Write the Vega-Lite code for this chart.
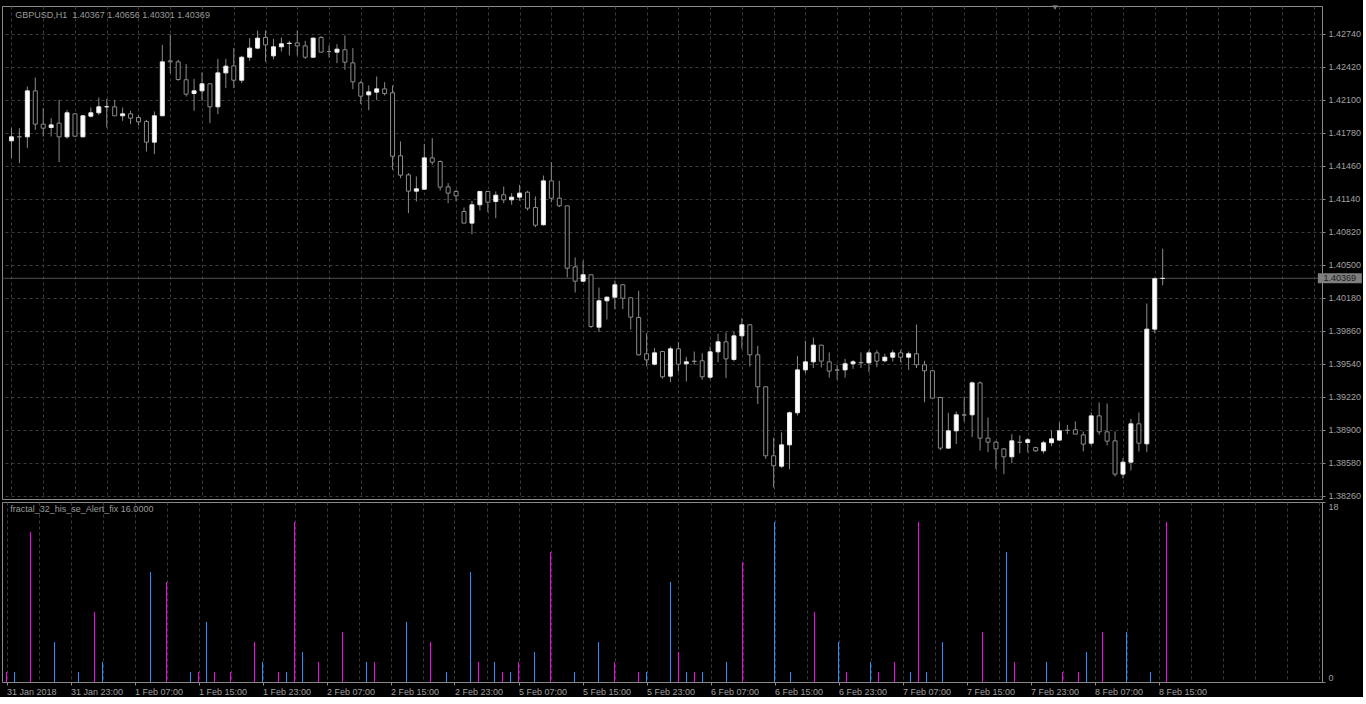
{
"$schema": "https://vega.github.io/schema/vega-lite/v6.json",
"background": "#000000",
"padding": {"left": 1, "top": 4, "right": 0, "bottom": 0},
"spacing": -2,
"config": {"view": {"stroke": "#8a8a8a", "strokeWidth": 1}},
"datasets": {
"candles": [
{"i":0,"o":1.41702,"h":1.41825,"l":1.41534,"c":1.41741},
{"i":1,"o":1.41741,"h":1.41825,"l":1.41486,"c":1.41741},
{"i":2,"o":1.41741,"h":1.42229,"l":1.41631,"c":1.42187},
{"i":3,"o":1.42187,"h":1.42316,"l":1.41809,"c":1.41864},
{"i":4,"o":1.41864,"h":1.42019,"l":1.41744,"c":1.41825},
{"i":5,"o":1.41831,"h":1.41922,"l":1.41744,"c":1.41857},
{"i":6,"o":1.41873,"h":1.42100,"l":1.41495,"c":1.41741},
{"i":7,"o":1.41741,"h":1.42003,"l":1.41722,"c":1.41974},
{"i":8,"o":1.41964,"h":1.41970,"l":1.41741,"c":1.41747},
{"i":9,"o":1.41741,"h":1.41954,"l":1.41734,"c":1.41945},
{"i":10,"o":1.41941,"h":1.42025,"l":1.41928,"c":1.41974},
{"i":11,"o":1.41974,"h":1.42122,"l":1.41954,"c":1.42032},
{"i":12,"o":1.42032,"h":1.42109,"l":1.41831,"c":1.42033},
{"i":13,"o":1.42032,"h":1.42100,"l":1.41945,"c":1.41945},
{"i":14,"o":1.41945,"h":1.42025,"l":1.41896,"c":1.41964},
{"i":15,"o":1.41964,"h":1.41993,"l":1.41864,"c":1.41922},
{"i":16,"o":1.41928,"h":1.41954,"l":1.41851,"c":1.41886},
{"i":17,"o":1.41890,"h":1.41906,"l":1.41599,"c":1.41689},
{"i":18,"o":1.41689,"h":1.41987,"l":1.41573,"c":1.41945},
{"i":19,"o":1.41945,"h":1.42633,"l":1.41945,"c":1.42468},
{"i":20,"o":1.42478,"h":1.42730,"l":1.42358,"c":1.42468},
{"i":21,"o":1.42468,"h":1.42488,"l":1.42284,"c":1.42297},
{"i":22,"o":1.42294,"h":1.42446,"l":1.42132,"c":1.42155},
{"i":23,"o":1.42161,"h":1.42303,"l":1.41993,"c":1.42187},
{"i":24,"o":1.42187,"h":1.42365,"l":1.42090,"c":1.42255},
{"i":25,"o":1.42255,"h":1.42258,"l":1.41873,"c":1.42032},
{"i":26,"o":1.42032,"h":1.42497,"l":1.41961,"c":1.42361},
{"i":27,"o":1.42361,"h":1.42497,"l":1.42213,"c":1.42426},
{"i":28,"o":1.42429,"h":1.42601,"l":1.42213,"c":1.42290},
{"i":29,"o":1.42290,"h":1.42526,"l":1.42261,"c":1.42513},
{"i":30,"o":1.42513,"h":1.42698,"l":1.42478,"c":1.42601},
{"i":31,"o":1.42601,"h":1.42772,"l":1.42591,"c":1.42698},
{"i":32,"o":1.42704,"h":1.42772,"l":1.42471,"c":1.42633},
{"i":33,"o":1.42526,"h":1.42691,"l":1.42494,"c":1.42614},
{"i":34,"o":1.42614,"h":1.42704,"l":1.42568,"c":1.42643},
{"i":35,"o":1.42646,"h":1.42672,"l":1.42530,"c":1.42649},
{"i":36,"o":1.42652,"h":1.42772,"l":1.42530,"c":1.42623},
{"i":37,"o":1.42623,"h":1.42672,"l":1.42497,"c":1.42513},
{"i":38,"o":1.42513,"h":1.42704,"l":1.42504,"c":1.42698},
{"i":39,"o":1.42704,"h":1.42717,"l":1.42562,"c":1.42562},
{"i":40,"o":1.42568,"h":1.42627,"l":1.42510,"c":1.42568},
{"i":41,"o":1.42562,"h":1.42639,"l":1.42455,"c":1.42591},
{"i":42,"o":1.42585,"h":1.42724,"l":1.42391,"c":1.42465},
{"i":43,"o":1.42458,"h":1.42601,"l":1.42203,"c":1.42274},
{"i":44,"o":1.42265,"h":1.42284,"l":1.42058,"c":1.42135},
{"i":45,"o":1.42148,"h":1.42239,"l":1.41999,"c":1.42177},
{"i":46,"o":1.42174,"h":1.42326,"l":1.42096,"c":1.42206},
{"i":47,"o":1.42206,"h":1.42271,"l":1.42142,"c":1.42161},
{"i":48,"o":1.42168,"h":1.42239,"l":1.41421,"c":1.41553},
{"i":49,"o":1.41557,"h":1.41696,"l":1.41340,"c":1.41369},
{"i":50,"o":1.41372,"h":1.41389,"l":1.41001,"c":1.41214},
{"i":51,"o":1.41214,"h":1.41356,"l":1.41114,"c":1.41237},
{"i":52,"o":1.41233,"h":1.41673,"l":1.41227,"c":1.41537},
{"i":53,"o":1.41537,"h":1.41728,"l":1.41469,"c":1.41495},
{"i":54,"o":1.41502,"h":1.41511,"l":1.41221,"c":1.41253},
{"i":55,"o":1.41256,"h":1.41292,"l":1.41098,"c":1.41195},
{"i":56,"o":1.41211,"h":1.41227,"l":1.41114,"c":1.41169},
{"i":57,"o":1.41017,"h":1.41056,"l":1.40904,"c":1.40904},
{"i":58,"o":1.40904,"h":1.41120,"l":1.40797,"c":1.41082},
{"i":59,"o":1.41082,"h":1.41217,"l":1.41027,"c":1.41211},
{"i":60,"o":1.41211,"h":1.41217,"l":1.41010,"c":1.41107},
{"i":61,"o":1.41114,"h":1.41211,"l":1.40952,"c":1.41175},
{"i":62,"o":1.41179,"h":1.41259,"l":1.41098,"c":1.41130},
{"i":63,"o":1.41130,"h":1.41195,"l":1.41082,"c":1.41156},
{"i":64,"o":1.41156,"h":1.41275,"l":1.41120,"c":1.41195},
{"i":65,"o":1.41204,"h":1.41217,"l":1.41027,"c":1.41049},
{"i":66,"o":1.41056,"h":1.41162,"l":1.40865,"c":1.40884},
{"i":67,"o":1.40888,"h":1.41366,"l":1.40881,"c":1.41314},
{"i":68,"o":1.41314,"h":1.41495,"l":1.41107,"c":1.41146},
{"i":69,"o":1.41146,"h":1.41314,"l":1.41059,"c":1.41072},
{"i":70,"o":1.41072,"h":1.41072,"l":1.40377,"c":1.40467},
{"i":71,"o":1.40480,"h":1.40571,"l":1.40231,"c":1.40341},
{"i":72,"o":1.40341,"h":1.40542,"l":1.40338,"c":1.40403},
{"i":73,"o":1.40403,"h":1.40403,"l":1.39886,"c":1.39902},
{"i":74,"o":1.39895,"h":1.40280,"l":1.39847,"c":1.40151},
{"i":75,"o":1.40151,"h":1.40193,"l":1.39970,"c":1.40186},
{"i":76,"o":1.40186,"h":1.40348,"l":1.40070,"c":1.40306},
{"i":77,"o":1.40306,"h":1.40312,"l":1.40070,"c":1.40176},
{"i":78,"o":1.40180,"h":1.40183,"l":1.39873,"c":1.39992},
{"i":79,"o":1.39989,"h":1.40248,"l":1.39620,"c":1.39627},
{"i":80,"o":1.39637,"h":1.39837,"l":1.39514,"c":1.39578},
{"i":81,"o":1.39536,"h":1.39692,"l":1.39524,"c":1.39646},
{"i":82,"o":1.39659,"h":1.39666,"l":1.39397,"c":1.39414},
{"i":83,"o":1.39420,"h":1.39708,"l":1.39362,"c":1.39685},
{"i":84,"o":1.39685,"h":1.39750,"l":1.39465,"c":1.39536},
{"i":85,"o":1.39540,"h":1.39608,"l":1.39368,"c":1.39559},
{"i":86,"o":1.39566,"h":1.39659,"l":1.39530,"c":1.39562},
{"i":87,"o":1.39569,"h":1.39643,"l":1.39385,"c":1.39414},
{"i":88,"o":1.39410,"h":1.39708,"l":1.39391,"c":1.39656},
{"i":89,"o":1.39656,"h":1.39831,"l":1.39556,"c":1.39753},
{"i":90,"o":1.39753,"h":1.39844,"l":1.39401,"c":1.39588},
{"i":91,"o":1.39582,"h":1.39853,"l":1.39562,"c":1.39811},
{"i":92,"o":1.39811,"h":1.39982,"l":1.39685,"c":1.39918},
{"i":93,"o":1.39918,"h":1.39924,"l":1.39514,"c":1.39627},
{"i":94,"o":1.39627,"h":1.39714,"l":1.39149,"c":1.39317},
{"i":95,"o":1.39317,"h":1.39317,"l":1.38618,"c":1.38648},
{"i":96,"o":1.38648,"h":1.38825,"l":1.38340,"c":1.38551},
{"i":97,"o":1.38547,"h":1.38874,"l":1.38528,"c":1.38754},
{"i":98,"o":1.38754,"h":1.39077,"l":1.38518,"c":1.39065},
{"i":99,"o":1.39065,"h":1.39617,"l":1.39039,"c":1.39481},
{"i":100,"o":1.39481,"h":1.39763,"l":1.39449,"c":1.39559},
{"i":101,"o":1.39559,"h":1.39795,"l":1.39498,"c":1.39721},
{"i":102,"o":1.39721,"h":1.39724,"l":1.39504,"c":1.39566},
{"i":103,"o":1.39559,"h":1.39650,"l":1.39407,"c":1.39469},
{"i":104,"o":1.39481,"h":1.39530,"l":1.39385,"c":1.39478},
{"i":105,"o":1.39481,"h":1.39588,"l":1.39407,"c":1.39540},
{"i":106,"o":1.39540,"h":1.39578,"l":1.39491,"c":1.39559},
{"i":107,"o":1.39553,"h":1.39650,"l":1.39498,"c":1.39549},
{"i":108,"o":1.39549,"h":1.39672,"l":1.39459,"c":1.39646},
{"i":109,"o":1.39646,"h":1.39672,"l":1.39507,"c":1.39566},
{"i":110,"o":1.39569,"h":1.39637,"l":1.39556,"c":1.39604},
{"i":111,"o":1.39604,"h":1.39675,"l":1.39562,"c":1.39646},
{"i":112,"o":1.39646,"h":1.39675,"l":1.39556,"c":1.39604},
{"i":113,"o":1.39604,"h":1.39659,"l":1.39481,"c":1.39637},
{"i":114,"o":1.39637,"h":1.39921,"l":1.39498,"c":1.39530},
{"i":115,"o":1.39530,"h":1.39569,"l":1.39168,"c":1.39472},
{"i":116,"o":1.39472,"h":1.39478,"l":1.39207,"c":1.39207},
{"i":117,"o":1.39213,"h":1.39220,"l":1.38702,"c":1.38722},
{"i":118,"o":1.38722,"h":1.39065,"l":1.38722,"c":1.38890},
{"i":119,"o":1.38890,"h":1.39077,"l":1.38761,"c":1.39045},
{"i":120,"o":1.39045,"h":1.39220,"l":1.38980,"c":1.39042},
{"i":121,"o":1.39045,"h":1.39368,"l":1.38829,"c":1.39355},
{"i":122,"o":1.39355,"h":1.39368,"l":1.38699,"c":1.38819},
{"i":123,"o":1.38819,"h":1.39019,"l":1.38683,"c":1.38780},
{"i":124,"o":1.38780,"h":1.38793,"l":1.38521,"c":1.38715},
{"i":125,"o":1.38715,"h":1.38722,"l":1.38470,"c":1.38638},
{"i":126,"o":1.38638,"h":1.38858,"l":1.38576,"c":1.38793},
{"i":127,"o":1.38780,"h":1.38845,"l":1.38673,"c":1.38777},
{"i":128,"o":1.38777,"h":1.38819,"l":1.38680,"c":1.38803},
{"i":129,"o":1.38728,"h":1.38735,"l":1.38683,"c":1.38696},
{"i":130,"o":1.38696,"h":1.38793,"l":1.38670,"c":1.38774},
{"i":131,"o":1.38774,"h":1.38893,"l":1.38741,"c":1.38812},
{"i":132,"o":1.38800,"h":1.38971,"l":1.38793,"c":1.38890},
{"i":133,"o":1.38896,"h":1.38948,"l":1.38858,"c":1.38893},
{"i":134,"o":1.38900,"h":1.38981,"l":1.38858,"c":1.38858},
{"i":135,"o":1.38851,"h":1.38884,"l":1.38690,"c":1.38761},
{"i":136,"o":1.38770,"h":1.39068,"l":1.38748,"c":1.39035},
{"i":137,"o":1.39035,"h":1.39165,"l":1.38851,"c":1.38880},
{"i":138,"o":1.38880,"h":1.39155,"l":1.38748,"c":1.38790},
{"i":139,"o":1.38793,"h":1.38884,"l":1.38447,"c":1.38470},
{"i":140,"o":1.38470,"h":1.38625,"l":1.38428,"c":1.38586},
{"i":141,"o":1.38586,"h":1.39006,"l":1.38505,"c":1.38958},
{"i":142,"o":1.38958,"h":1.39068,"l":1.38690,"c":1.38770},
{"i":143,"o":1.38764,"h":1.40125,"l":1.38683,"c":1.39876},
{"i":144,"o":1.39876,"h":1.40377,"l":1.39837,"c":1.40365},
{"i":145,"o":1.40367,"h":1.40656,"l":1.40301,"c":1.40369}
],
"hist": [
{"i":0,"t":"m","v":1},{"i":1,"t":"b","v":1},{"i":3,"t":"m","v":15},{"i":6,"t":"b","v":4},{"i":9,"t":"b","v":1},
{"i":11,"t":"m","v":7},{"i":12,"t":"b","v":2},{"i":18,"t":"b","v":11},{"i":20,"t":"m","v":10},{"i":23,"t":"b","v":1},
{"i":24,"t":"m","v":1},{"i":25,"t":"b","v":6},{"i":26,"t":"m","v":1},{"i":28,"t":"m","v":1},{"i":31,"t":"m","v":4},
{"i":32,"t":"b","v":2},{"i":34,"t":"m","v":1},{"i":35,"t":"b","v":1},{"i":36,"t":"m","v":16},{"i":37,"t":"b","v":3},
{"i":39,"t":"m","v":2},{"i":42,"t":"m","v":5},{"i":45,"t":"b","v":2},{"i":46,"t":"m","v":2},{"i":50,"t":"b","v":6},
{"i":53,"t":"m","v":4},{"i":55,"t":"b","v":1},{"i":58,"t":"b","v":11},{"i":59,"t":"m","v":2},{"i":61,"t":"b","v":2},
{"i":62,"t":"m","v":1},{"i":63,"t":"b","v":1},{"i":64,"t":"m","v":2},{"i":66,"t":"b","v":3},{"i":68,"t":"m","v":13},
{"i":71,"t":"b","v":1},{"i":74,"t":"b","v":4},{"i":76,"t":"m","v":2},{"i":79,"t":"m","v":1},{"i":80,"t":"b","v":1},
{"i":83,"t":"b","v":10},{"i":84,"t":"m","v":3},{"i":85,"t":"b","v":1},{"i":86,"t":"m","v":1},{"i":87,"t":"b","v":1},
{"i":90,"t":"b","v":2},{"i":92,"t":"m","v":12},{"i":96,"t":"b","v":16},{"i":98,"t":"b","v":1},{"i":101,"t":"m","v":7},
{"i":104,"t":"b","v":4},{"i":105,"t":"m","v":1},{"i":108,"t":"b","v":2},{"i":109,"t":"m","v":1},{"i":111,"t":"m","v":2},
{"i":113,"t":"b","v":1},{"i":114,"t":"m","v":16},{"i":115,"t":"b","v":1},{"i":117,"t":"b","v":4},{"i":122,"t":"m","v":5},
{"i":125,"t":"b","v":13},{"i":126,"t":"m","v":2},{"i":130,"t":"b","v":2},{"i":132,"t":"m","v":1},{"i":134,"t":"m","v":1},
{"i":135,"t":"b","v":3},{"i":137,"t":"m","v":5},{"i":140,"t":"b","v":5},{"i":143,"t":"b","v":1},{"i":145,"t":"m","v":16}
],
"last": [{"price": 1.40369, "label": "1.40369"}],
"hdr": [{"text": "GBPUSD,H1\u00a0 1.40367 1.40656 1.40301 1.40369"}],
"sub": [{"text": "fractal_32_his_se_Alert_fix 16.0000"}],
"shift": [{"marker": "chart shift"}]
},
"vconcat": [
{
"width": 1320,
"height": 493,
"layer": [
{
"data": {"name": "candles"},
"mark": {"type": "rule", "color": "#8a8a8a", "strokeWidth": 1},
"encoding": {
"x": {"field": "i", "type": "quantitative", "scale": {"domain": [-0.5625, 164.4375], "nice": false, "zero": false},
"axis": {"values": [0,4,8,12,16,20,24,28,32,36,40,44,48,52,56,60,64,68,72,76,80,84,88,92,96,100,104,108,112,116,120,124,128,132,136,140,144,148,152,156,160,164], "tickCount": 200, "grid": true, "gridColor": "#3c3c3c", "gridDash": [3, 3], "labels": false, "ticks": false, "domain": false, "title": null, "minExtent": 0, "maxExtent": 0, "labelPadding": 0, "tickSize": 0}},
"y": {"field": "l", "type": "quantitative",
"scale": {"domain": [1.382289, 1.430096], "nice": false, "zero": false},
"axis": {"orient": "right", "values": [1.3826, 1.3858, 1.389, 1.3922, 1.3954, 1.3986, 1.4018, 1.405, 1.4082, 1.4114, 1.4146, 1.4178, 1.421, 1.4242, 1.4274], "tickCount": 200, "format": ".5f", "grid": true, "gridColor": "#3c3c3c", "gridDash": [3, 3], "domain": false, "tickSize": 3, "tickColor": "#8a8a8a", "labelColor": "#a0a0a0", "labelFont": "Liberation Sans", "labelFontSize": 9, "labelPadding": 3, "title": null, "labelOverlap": false, "labelFlush": false}},
"y2": {"field": "h"}
}
},
{
"data": {"name": "last"},
"mark": {"type": "rule", "color": "#505050", "strokeWidth": 1},
"encoding": {
"y": {"field": "price", "type": "quantitative"}
}
},
{
"data": {"name": "candles"},
"mark": {"type": "bar", "width": 4, "strokeWidth": 1},
"encoding": {
"x": {"field": "i", "type": "quantitative"},
"y": {"field": "o", "type": "quantitative"},
"y2": {"field": "c"},
"fill": {"condition": {"test": "datum.c > datum.o", "value": "#ffffff"}, "value": "#000000"},
"stroke": {"condition": {"test": "datum.c > datum.o", "value": "#e8e8e8"}, "value": "#8a8a8a"}
}
},
{
"data": {"name": "last"},
"mark": {"type": "point", "filled": true, "opacity": 1, "color": "#7f7f7f", "shape": "M-1,-0.227L1,-0.227L1,0.227L-1,0.227Z", "size": 1936},
"encoding": {
"x": {"datum": 167.3125, "type": "quantitative"},
"y": {"field": "price", "type": "quantitative"}
}
},
{
"data": {"name": "last"},
"mark": {"type": "text", "align": "center", "baseline": "middle", "font": "Liberation Sans", "fontSize": 9, "color": "#1a1a1a"},
"encoding": {
"x": {"datum": 167.3125, "type": "quantitative"},
"y": {"field": "price", "type": "quantitative"},
"text": {"field": "label"}
}
},
{
"data": {"name": "hdr"},
"mark": {"type": "text", "align": "left", "baseline": "alphabetic", "font": "Liberation Sans", "fontSize": 9, "color": "#9a9a9a"},
"encoding": {
"x": {"datum": 0.475, "type": "quantitative"},
"y": {"datum": 1.42898, "type": "quantitative"},
"text": {"field": "text"}
}
},
{
"data": {"name": "shift"},
"mark": {"type": "point", "shape": "triangle-down", "filled": true, "opacity": 1, "color": "#7a7a7a", "size": 30},
"encoding": {
"x": {"datum": 131.44, "type": "quantitative"},
"y": {"datum": 1.42995, "type": "quantitative"}
}
}
]
},
{
"width": 1320,
"height": 180,
"layer": [
{
"data": {"name": "hist"},
"mark": {"type": "rule", "strokeWidth": 1},
"encoding": {
"x": {"field": "i", "type": "quantitative", "scale": {"domain": [-0.5625, 164.4375], "nice": false, "zero": false},
"axis": {"values": [0,4,8,12,16,20,24,28,32,36,40,44,48,52,56,60,64,68,72,76,80,84,88,92,96,100,104,108,112,116,120,124,128,132,136,140,144,148,152,156,160,164], "tickCount": 200, "grid": true, "gridColor": "#3c3c3c", "gridDash": [3, 3], "domain": false, "tickSize": 3,
"tickColor": {"condition": {"test": "datum.value % 8 === 0 && datum.value <= 144", "value": "#8a8a8a"}, "value": "transparent"},
"labelExpr": "(datum.value % 8 === 0 && datum.value <= 144) ? ['31 Jan 2018','31 Jan 23:00','1 Feb 07:00','1 Feb 15:00','1 Feb 23:00','2 Feb 07:00','2 Feb 15:00','2 Feb 23:00','5 Feb 07:00','5 Feb 15:00','5 Feb 23:00','6 Feb 07:00','6 Feb 15:00','6 Feb 23:00','7 Feb 07:00','7 Feb 15:00','7 Feb 23:00','8 Feb 07:00','8 Feb 15:00'][datum.value / 8] : ''",
"labelAlign": "left", "labelFlush": false, "labelOverlap": false, "labelBound": false, "labelPadding": 2, "labelColor": "#a0a0a0", "labelFont": "Liberation Sans", "labelFontSize": 9, "title": null}},
"y": {"field": "v", "type": "quantitative", "scale": {"domain": [0, 18], "nice": false},
"axis": {"orient": "right", "values": [0, 18], "grid": false, "domain": false, "tickSize": 3, "tickColor": "#8a8a8a", "labelFlush": true, "labelColor": "#a0a0a0", "labelFont": "Liberation Sans", "labelFontSize": 9, "labelPadding": 3, "title": null}},
"y2": {"datum": 0},
"color": {"field": "t", "type": "nominal", "scale": {"domain": ["b", "m"], "range": ["#1e90ff", "#ff00ff"]}, "legend": null}
}
},
{
"data": {"name": "sub"},
"mark": {"type": "text", "align": "left", "baseline": "alphabetic", "font": "Liberation Sans", "fontSize": 9, "color": "#9a9a9a"},
"encoding": {
"x": {"datum": 0.475, "type": "quantitative"},
"y": {"datum": 17, "type": "quantitative"},
"text": {"field": "text"}
}
}
]
}
]
}
